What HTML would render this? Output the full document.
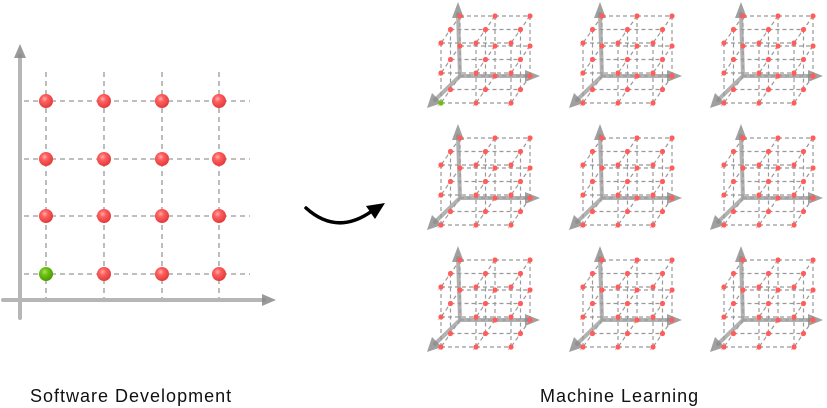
<!DOCTYPE html>
<html><head><meta charset="utf-8"><style>
body{margin:0;background:#fff;width:827px;height:408px;overflow:hidden}
.t{position:absolute;font-family:"Liberation Sans",sans-serif;font-size:18px;letter-spacing:1px;color:#111}
</style></head><body>
<svg id="s" width="827" height="408" style="position:absolute;left:0;top:0">
<defs>
<radialGradient id="r" cx="40%" cy="35%" r="65%"><stop offset="0" stop-color="#ffb0b0"/><stop offset="0.35" stop-color="#ff5f5f"/><stop offset="1" stop-color="#e23a3a"/></radialGradient>
<radialGradient id="g" cx="40%" cy="35%" r="65%"><stop offset="0" stop-color="#a8e060"/><stop offset="0.4" stop-color="#6cc010"/><stop offset="1" stop-color="#4a9a00"/></radialGradient>
</defs>
<g id="d2" stroke="#999" stroke-width="1.3" stroke-dasharray="5,4" fill="none"></g>
<g stroke="#aaa" stroke-width="4" stroke-linecap="round" opacity="0.85">
<line x1="20" y1="318" x2="20" y2="56"/><line x1="3" y1="300" x2="264" y2="300"/>
</g>
<polygon points="20,44 14,58 26,58" fill="#888" opacity="0.85"/>
<polygon points="276,300 262,294 262,306" fill="#888" opacity="0.85"/>
<g id="b2"></g>
<g id="cubes"></g>
<path d="M306,208 Q337,236 372,211" stroke="#000" stroke-width="3.5" fill="none" stroke-linecap="round"/>
<polygon points="385,203 366,206 375,219" fill="#000"/>
</svg>
<div class="t" style="left:30px;top:386px">Software Development</div>
<div class="t" style="left:540px;top:386px">Machine Learning</div>
<script>
var NS="http://www.w3.org/2000/svg";
function el(p,t,a){var e=document.createElementNS(NS,t);for(var k in a)e.setAttribute(k,a[k]);p.appendChild(e);return e;}
var d2=document.getElementById('d2'),b2=document.getElementById('b2');
var xs=[46,104,162,219],ys=[101,159,216,274];
xs.forEach(function(x){el(d2,'line',{x1:x,y1:72,x2:x,y2:298});});
ys.forEach(function(y){el(d2,'line',{x1:24,y1:y,x2:250,y2:y});});
ys.forEach(function(y,j){xs.forEach(function(x,i){el(b2,'circle',{cx:x,cy:y,r:7,fill:(i==0&&j==3)?'url(#g)':'url(#r)'});});});
var C=document.getElementById('cubes');
var ox=[460,602,743],oy=[76,198,320];
for(var r=0;r<3;r++)for(var c=0;c<3;c++){
 var O=[ox[c],oy[r]],g=el(C,'g',{});
 function P(i,j,k){return [O[0]+i*35-k*9.5,O[1]-j*30+k*13.5];}
 var L=el(g,'g',{stroke:'#999','stroke-width':1.2,'stroke-dasharray':'4,3',fill:'none'});
 for(var a=0;a<3;a++)for(var b=0;b<3;b++){
  var p,q;
  p=P(0,a,b);q=P(2,a,b);el(L,'line',{x1:p[0],y1:p[1],x2:q[0],y2:q[1]});
  p=P(a,0,b);q=P(a,2,b);el(L,'line',{x1:p[0],y1:p[1],x2:q[0],y2:q[1]});
  p=P(a,b,0);q=P(a,b,2);el(L,'line',{x1:p[0],y1:p[1],x2:q[0],y2:q[1]});
 }
 var A=el(g,'g',{stroke:'#999','stroke-width':4,'stroke-linecap':'round',opacity:0.75});
 el(A,'line',{x1:O[0],y1:O[1],x2:O[0]-2,y2:O[1]-62});
 el(A,'line',{x1:O[0],y1:O[1],x2:O[0]+68,y2:O[1]});
 el(A,'line',{x1:O[0],y1:O[1],x2:O[0]-25,y2:O[1]+24});
 el(g,'polygon',{points:(O[0]-2)+','+(O[1]-74)+' '+(O[0]-8)+','+(O[1]-58)+' '+(O[0]+4)+','+(O[1]-58),fill:'#888',opacity:0.8});
 el(g,'polygon',{points:(O[0]+80)+','+O[1]+' '+(O[0]+65)+','+(O[1]-6)+' '+(O[0]+65)+','+(O[1]+6),fill:'#888',opacity:0.8});
 el(g,'polygon',{points:(O[0]-33)+','+(O[1]+32)+' '+(O[0]-28)+','+(O[1]+17)+' '+(O[0]-18)+','+(O[1]+27),fill:'#888',opacity:0.8});
 for(var i=0;i<3;i++)for(var j=0;j<3;j++)for(var k=0;k<3;k++){
  if(i==0&&j==0&&k==0)continue;
  var p=P(i,j,k);
  el(g,'line',{x1:p[0],y1:p[1],x2:p[0]-3,y2:p[1]+3,stroke:'#f4a0a0','stroke-width':0.8});
  var green=(r==0&&c==0&&i==0&&j==0&&k==2);
  el(g,'circle',{cx:p[0],cy:p[1],r:2.6,fill:green?'#6cc010':'#ff5c5c'});
 }
}
</script>
</body></html>
